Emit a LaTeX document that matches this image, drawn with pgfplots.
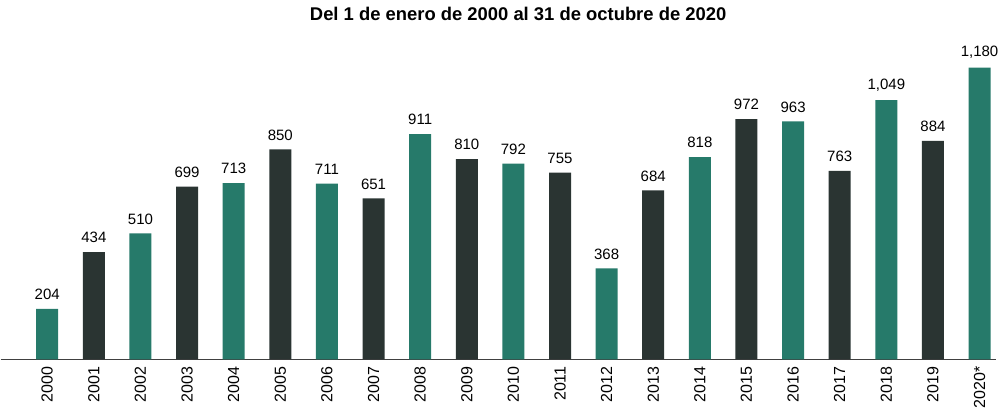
\documentclass[border=0pt]{standalone}
\usepackage{pgfplots}
\pgfplotsset{compat=1.18}
\usepackage{pgfplotstable}
\usepackage{fontspec}
\setmainfont{Liberation Sans}
\definecolor{tealbar}{RGB}{38,122,106}
\definecolor{darkbar}{RGB}{42,52,50}

% alternating colours: even years teal, odd years dark
\pgfplotstableread{
x y
0 204
2 510
4 713
6 711
8 911
10 792
12 368
14 818
16 963
18 1049
20 1180
}\tealdata
\pgfplotstableread{
x y
1 434
3 699
5 850
7 651
9 810
11 755
13 684
15 972
17 763
19 884
}\darkdata

\begin{document}
\begin{tikzpicture}
\begin{axis}[
    scale only axis,
    width=497.5pt, height=161pt,
    xmin=-1.0, xmax=20.35,
    ymin=0, ymax=1303,
    axis x line*=bottom,
    axis y line=none,
    axis line style={-, draw=black!75, line width=0.6pt},
    xtick={0,...,20},
    xticklabels={2000,2001,2002,2003,2004,2005,2006,2007,2008,2009,2010,2011,2012,2013,2014,2015,2016,2017,2018,2019,2020*},
    x tick label style={rotate=90, anchor=east, font=\fontsize{8}{9}\selectfont},
    major tick length=0pt,
    /pgf/number format/assume math mode=true,
    ybar, bar width=11pt, bar shift=0pt,
    nodes near coords={\pgfmathprintnumber[1000 sep={,}]{\pgfplotspointmeta}},
    nodes near coords style={font=\fontsize{7.5}{9}\selectfont, black, yshift=1pt},
    title={\textbf{Del 1 de enero de 2000 al 31 de octubre de 2020}},
    title style={font=\fontsize{9.2}{11}\selectfont, at={(0.52,1)}, yshift=-1pt},
    clip=false,
]
\addplot[fill=tealbar, draw=none] table[x=x, y=y] {\tealdata};
\addplot[fill=darkbar, draw=none] table[x=x, y=y] {\darkdata};
\end{axis}
\end{tikzpicture}
\end{document}
